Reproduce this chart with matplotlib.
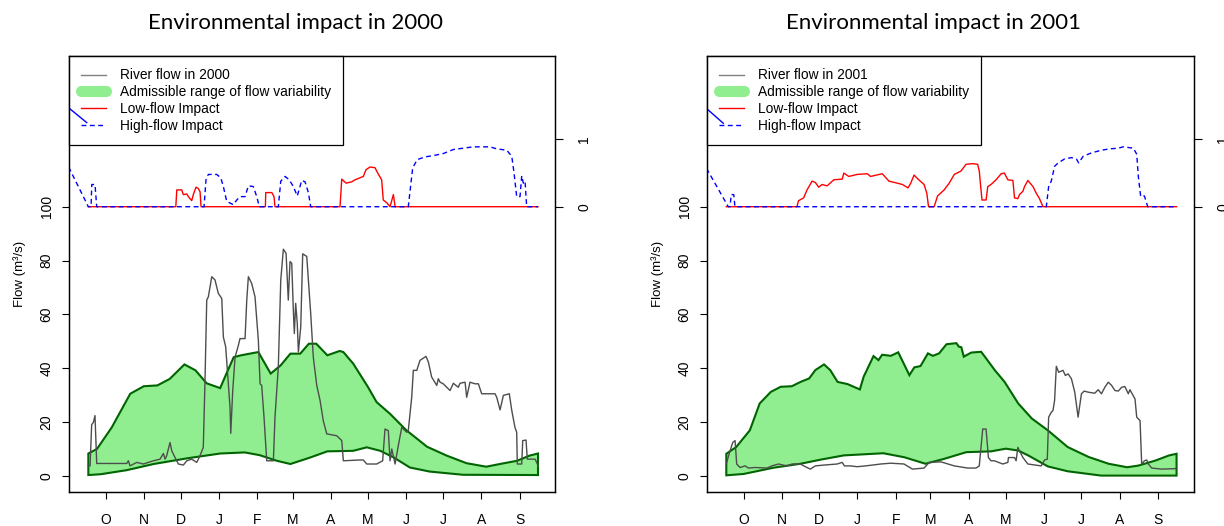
import numpy as np
import matplotlib
matplotlib.use('Agg')
from matplotlib import pyplot as plt
from matplotlib.lines import Line2D

plt.rcParams['font.family'] = ['Liberation Sans', 'DejaVu Sans']

# month labels of the hydrological year (Oct - Sep)
months = ['O', 'N', 'D', 'J', 'F', 'M', 'A', 'M', 'J', 'J', 'A', 'S']
month_len_2000 = [31, 30, 31, 31, 29, 31, 30, 31, 30, 31, 31, 30]
month_len_2001 = [31, 30, 31, 31, 28, 31, 30, 31, 30, 31, 31, 30]

# ---- 2000 (day 0 = 1 Oct 1999) ----
flow00_day = [0, 1.4, 2.7, 4.1, 5.4, 6.8, 31.2, 32.5, 33.8, 39.3,
              44.6, 52.8, 58.2, 60.9, 62.3, 63.6, 66.3, 67.7, 70.4, 73.1,
              77.1, 79.9, 83.9, 88, 90.7, 93.3, 94.7, 96.1, 97.4, 100.2,
              102.8, 105.5, 108.3, 109.6, 111.5, 113.6, 115, 115.6, 117.2, 119.1,
              121.8, 123.1, 127.2, 128.6, 129.9, 132.6, 135.3, 138, 139.4, 140.7,
              142.6, 144.8, 150.2, 151.5, 154.2, 156.2, 158.3, 160.5, 162.3, 163.7,
              165.1, 166.4, 167.2, 168.3, 169.6, 170.5, 172.4, 174, 177.3, 180.5,
              182.6, 185.4, 188.1, 190.7, 193.5, 201.6, 205.7, 207, 220.5, 223.2,
              226, 234.1, 238.9, 240.8, 243.5, 244.9, 246.3, 249, 251.6, 254.4,
              258.4, 259.7, 262.5, 263.8, 266.6, 269.2, 274.1, 276, 278.7, 282.8,
              284.1, 285.5, 288.1, 290.9, 293.6, 296.3, 300.3, 301.7, 305.8, 307.1,
              309.8, 313.9, 316.6, 319.3, 323.4, 330.1, 331.5, 334.2, 336.9, 341.7,
              343.7, 346.3, 347.7, 348.2, 351.8, 352.6, 355.3, 356.3, 362.6, 364.5,
              365]
flow00_val = [3.7, 3.7, 19.0, 19.9, 22.4, 4.6, 4.6, 5.6, 3.7, 5.0,
              4.4, 5.6, 6.2, 8.3, 6.2, 7.5, 12.4, 9.3, 6.8, 4.4,
              4.0, 5.6, 6.2, 5.0, 7.5, 10.6, 35.4, 65.3, 66.5, 74.0,
              72.8, 67.8, 65.9, 51.6, 47.9, 34.2, 25.5, 15.8, 31.7, 44.1,
              48.5, 51.0, 51.0, 65.3, 74.0, 71.5, 66.5, 50.4, 34.2, 33.6,
              21.8, 5.6, 5.6, 21.8, 40.4, 72.8, 84.2, 82.7, 65.3, 79.6,
              79.0, 61.6, 52.9, 64.1, 56.6, 46.0, 55.3, 82.5, 81.5, 60.3,
              44.1, 33.6, 28.0, 20.5, 15.6, 14.9, 13.1, 5.6, 5.9, 5.9,
              4.4, 4.4, 5.6, 17.4, 16.8, 5.6, 10.0, 4.4, 11.2, 18.0,
              16.2, 16.8, 29.2, 39.2, 39.2, 42.9, 44.4, 42.3, 36.7, 33.6,
              36.1, 34.8, 34.2, 32.9, 31.7, 34.4, 32.9, 34.4, 34.8, 29.2,
              34.8, 34.2, 34.2, 30.5, 30.5, 30.5, 29.2, 24.5, 29.9, 30.5,
              24.3, 18.0, 16.2, 4.4, 4.4, 13.1, 13.3, 6.2, 6.2, 4.4,
              3.7]
up00_day = [0, 7, 19, 28, 34, 45, 56, 66, 78, 87, 96, 107, 112, 118, 124, 138, 148, 156, 164,
            172, 179, 185, 194, 204, 207, 215, 227, 234, 245, 258, 275, 291, 307, 323, 334,
            348, 358, 365]
up00_val = [8.3, 10, 18, 25.5, 30.5, 33.3, 33.6, 36, 41.4, 39.2, 34.4, 32.6, 37.9, 44.1, 44.8,
            46, 38, 41, 45.4, 45.4, 49.1, 49.1, 44.8, 46.4, 46, 41.7, 33, 27.4, 23, 17, 10.8,
            7.5, 4.7, 3.4, 4.4, 5.6, 7.5, 8.3]
lo00_day = [0, 10, 31, 53, 80, 107, 127, 139, 153, 164, 180, 194, 215, 226, 237, 248, 261, 277, 304, 365]
lo00_val = [0.3, 0.6, 2.1, 4.4, 6.5, 8.3, 8.7, 7.7, 5.6, 4.4, 6.8, 9.1, 9.3, 10.6, 9.3, 6.8, 3.1, 1.6, 0.4, 0.3]
lf00_day = [0, 71, 71.8, 75.8, 77.1, 79.9, 81.2, 83.9, 85.2, 87.4, 89.3, 90.7, 91.5, 143.7, 144,
            148.9, 150.7, 151.5, 204.3, 205.7, 209.2, 213.8, 216.5, 220.5, 223.2, 225.4, 228.6,
            232.7, 234.6, 238.1, 239.4, 242.2, 244.9, 247.6, 249, 365]
lf00_val = [0, 0, 0.25, 0.25, 0.18, 0.19, 0.15, 0.09, 0.18, 0.29, 0.27, 0.22, 0, 0, 0.21, 0.21,
            0.15, 0, 0, 0.41, 0.35, 0.37, 0.40, 0.43, 0.45, 0.55, 0.59, 0.58, 0.51, 0.40, 0.10,
            0.06, 0, 0.18, 0, 0]
hf00_day = [-16, 0, 2.2, 2.8, 5.4, 6.8, 93.9, 95.5, 97.4, 104.2, 107.5, 109.6, 112.3, 117.7,
            120.5, 123.1, 127.2, 129.9, 133.9, 136.7, 138.8, 154.2, 156.2, 159.7, 163.1, 166.4,
            169.6, 173.2, 175.9, 178.6, 180.5, 259.7, 263.3, 267, 273.3, 280, 288.1, 296.3,
            304.4, 312.5, 326, 331.5, 335.5, 339.6, 343.7, 345.5, 347.7, 350.4, 351.8, 353.1,
            354.5, 355.8, 365]
hf00_val = [0.59, 0, 0, 0.33, 0.33, 0, 0, 0.40, 0.48, 0.48, 0.43, 0.30, 0.08, 0.03, 0.10, 0.15,
            0.15, 0.31, 0.30, 0.15, 0, 0, 0.38, 0.45, 0.40, 0.30, 0.16, 0.39, 0.37, 0.21, 0, 0,
            0.58, 0.70, 0.74, 0.76, 0.79, 0.85, 0.87, 0.89, 0.89, 0.86, 0.85, 0.84, 0.75, 0.51,
            0.15, 0.15, 0.46, 0.35, 0.38, 0, 0]
edge00_day = [-16, -1.3]
edge00_val = [1.47, 1.25]

# ---- 2001 (day 0 = 1 Oct 2000) ----
flow01_day = [0, 2.4, 5.2, 7.1, 8.4, 11.1, 15.2, 17.9, 23.3, 32.8,
              36.8, 42.2, 49, 53.1, 59.8, 63.9, 67.9, 72, 78.7, 89.6,
              93.7, 95.5, 100.4, 105.8, 112.6, 118, 124.8, 132.9, 143.7, 150.5,
              159.9, 164, 173.5, 184.3, 195.1, 201.9, 204.5, 207.3, 210, 211.9,
              214, 216.7, 223.5, 227.6, 228.1, 233, 234.3, 235.7, 237, 239.8,
              243.8, 254.6, 257.3, 259.5, 260.6, 262.7, 264.1, 265.4, 266.8, 268.7,
              272.2, 274.1, 276.3, 279, 281.7, 284.4, 287.1, 289.3, 292.5, 297.9,
              300.6, 303.3, 306, 308.8, 311.5, 314.2, 316.9, 319.6, 322.2, 325,
              326.3, 330.4, 331.8, 334.5, 335.8, 338, 339.9, 341.2, 343.9, 352,
              364]
flow01_val = [4.4, 8.3, 12.4, 13.1, 4.4, 3.1, 3.7, 2.9, 3.1, 2.9,
              3.7, 4.4, 3.7, 4.4, 4.4, 3.4, 2.5, 3.7, 4.0, 4.4,
              5.0, 3.7, 3.7, 3.4, 3.7, 4.0, 4.4, 4.7, 4.4, 2.5,
              2.9, 5.0, 5.2, 3.7, 2.9, 2.9, 3.7, 17.4, 17.4, 6.8,
              5.6, 5.6, 4.4, 5.0, 6.8, 6.8, 5.6, 10.6, 9.3, 6.8,
              4.4, 3.7, 5.9, 6.2, 21.8, 23.6, 24.3, 28.0, 40.7, 38.5,
              39.2, 37.3, 37.9, 36.1, 31.1, 21.8, 30.5, 31.5, 31.1, 30.7,
              32.0, 30.5, 32.9, 34.8, 33.6, 31.7, 31.5, 32.9, 33.2, 30.5,
              32.0, 28.6, 21.8, 20.5, 4.4, 5.6, 5.9, 4.4, 2.9, 2.5,
              2.7]
up01_day = [0, 8, 19, 27, 36, 44, 53, 60, 67, 72, 79, 84, 90, 98, 108, 111, 119, 123, 126, 133,
            139, 144, 148, 152, 157, 163, 167, 172, 178, 186, 188, 190, 192, 198, 206, 209, 217,
            225, 236, 247, 260, 276, 293, 309, 324, 333, 347, 358, 364]
up01_val = [8.2, 10.7, 16.9, 26.9, 31.2, 33.1, 33.3, 34.9, 36.2, 39.3, 41.4, 39.3, 34.9, 34.1,
            32.1, 36.8, 44.5, 43.0, 45.0, 44.6, 45.9, 41.2, 37.4, 40.3, 40.8, 45.5, 44.6, 45.5,
            48.9, 49.3, 48.0, 47.8, 44.3, 45.8, 46.1, 44.3, 39.3, 34.9, 26.9, 21.3, 16.9, 10.7,
            7.0, 4.5, 3.2, 3.8, 5.7, 7.6, 8.2]
lo01_day = [0, 14, 38, 60, 76, 95, 127, 144, 161, 176, 194, 214, 226, 236, 244, 260, 276, 303, 364]
lo01_val = [0.2, 0.7, 3.0, 4.5, 6.0, 7.6, 8.4, 6.9, 4.5, 6.3, 8.8, 9.1, 10.1, 9.4, 7.6, 3.5, 1.7, 0.1, 0.1]
lf01_day = [0, 57.1, 58.4, 62.5, 65.3, 69.3, 72, 74.7, 77.4, 81.5, 86.9, 93.7, 95, 99, 105.8, 114,
            116.6, 126.1, 131.5, 138.3, 142.4, 146.9, 149.1, 151.8, 155, 159.9, 162.1, 163.5, 168,
            170.8, 176.1, 180.2, 184.3, 189.7, 193.8, 199.2, 203.2, 204.5, 206.7, 210, 211.4, 214,
            218.1, 222.2, 224.8, 227.6, 231.7, 233, 235.7, 237, 239.8, 241.1, 243.8, 246.5, 247.9,
            250.6, 253.2, 256, 364]
lf01_val = [0, 0, 0.09, 0.13, 0.25, 0.38, 0.36, 0.29, 0.33, 0.31, 0.40, 0.41, 0.50, 0.45, 0.48,
            0.49, 0.45, 0.49, 0.38, 0.35, 0.33, 0.28, 0.35, 0.47, 0.41, 0.33, 0.20, 0, 0, 0.16,
            0.25, 0.35, 0.48, 0.53, 0.63, 0.64, 0.63, 0.53, 0.10, 0.10, 0.30, 0.33, 0.40, 0.49,
            0.50, 0.40, 0.39, 0.13, 0.12, 0.18, 0.23, 0.30, 0.39, 0.33, 0.30, 0.20, 0.12, 0, 0]
hf01_day = [-16, 1.6, 3, 4, 6, 7, 258.7, 260.6, 262.7, 265.4, 268.2, 273.5, 279, 283, 284.9,
            288.5, 295.2, 303.3, 310.1, 316.9, 320.9, 325, 329.1, 331.8, 333.1, 335, 338, 340.7, 364]
hf01_val = [0.57, 0, 0, 0.18, 0.18, 0, 0, 0.30, 0.38, 0.60, 0.65, 0.71, 0.73, 0.71, 0.65, 0.75,
            0.80, 0.84, 0.86, 0.87, 0.89, 0.88, 0.87, 0.78, 0.45, 0.15, 0.16, 0, 0]
edge01_day = [-16, -2.4]
edge01_val = [1.46, 1.24]

FLOW_COL = '#4d4d4d'
DASH = (0, (3.5, 2.5))


def draw_panel(ax, year, month_len, xlim, flow, upper, lower, low_imp, high_imp, edge):
    # admissible range polygon
    xs = np.concatenate([upper[0], lower[0][::-1]])
    ys = np.concatenate([upper[1], lower[1][::-1]])
    ax.fill(xs, ys, facecolor='#90EE90', edgecolor='#006400', lw=1.5, zorder=2)
    ax.plot(flow[0], flow[1], color=FLOW_COL, lw=1, zorder=3)

    ax.set_xlim(*xlim)
    ax.set_ylim(-6, 156)
    ticks = np.concatenate([[0], np.cumsum(month_len)[:-1]]) + 14
    ax.set_xticks(ticks)
    ax.set_xticklabels(months)
    ax.set_yticks([0, 20, 40, 60, 80, 100])
    for lab in ax.get_yticklabels():
        lab.set_rotation(90)
        lab.set_va('center')
    ax.tick_params(axis='x', direction='out', length=5, width=0.8, pad=10, labelsize=10)
    ax.tick_params(axis='y', direction='out', length=5, width=0.8, pad=6, labelsize=10)
    ax.set_ylabel('Flow (m³/s)', fontsize=9.5)
    ax.yaxis.set_label_coords(-0.088, 0.5)
    for s in ax.spines.values():
        s.set_linewidth(0.9)

    handles = [Line2D([], [], color='#808080', lw=1),
               Line2D([], [], color='#90EE90', lw=8, solid_capstyle='round'),
               Line2D([], [], color='red', lw=1),
               Line2D([], [], color='blue', lw=1, ls=DASH)]
    labels = ['River flow in %d' % year, 'Admissible range of flow variability',
              'Low-flow Impact', 'High-flow Impact']
    leg = ax.legend(handles, labels, loc='upper left', bbox_to_anchor=(0, 1.0),
                    borderaxespad=0, fancybox=False, edgecolor='black', framealpha=1,
                    fontsize=9.9, handlelength=1.8, handletextpad=1.0,
                    labelspacing=0.2, borderpad=0.9)
    leg.get_frame().set_linewidth(0.9)

    # impact indices on the secondary axis (0 at flow 100, 1 at flow 125)
    ax2 = ax.twinx()
    ax2.set_ylim((-6 - 100) / 25, (156 - 100) / 25)
    ax2.plot(low_imp[0], low_imp[1], color='red', lw=1)
    ax2.plot(high_imp[0], high_imp[1], color='blue', lw=1, ls=DASH)
    ax2.plot(edge[0], edge[1], color='blue', lw=1)
    ax2.set_xlim(*xlim)
    ax2.set_yticks([0, 1])
    for lab in ax2.get_yticklabels():
        lab.set_rotation(90)
        lab.set_va('center')
    ax2.tick_params(axis='y', direction='out', length=6, width=0.8, pad=10, labelsize=10)
    for s in ax2.spines.values():
        s.set_linewidth(0.9)


fig = plt.figure(figsize=(12.24, 5.26), dpi=100)
ax_l = fig.add_axes([69 / 1224, 34 / 526, 486 / 1224, 436 / 526])
ax_r = fig.add_axes([707 / 1224, 34 / 526, 487 / 1224, 436 / 526])

draw_panel(ax_l, 2000, month_len_2000, (-15.7, 378.8),
           (flow00_day, flow00_val), (up00_day, up00_val), (lo00_day, lo00_val),
           (lf00_day, lf00_val), (hf00_day, hf00_val), (edge00_day, edge00_val))
draw_panel(ax_r, 2001, month_len_2001, (-15.6, 378.1),
           (flow01_day, flow01_val), (up01_day, up01_val), (lo01_day, lo01_val),
           (lf01_day, lf01_val), (hf01_day, hf01_val), (edge01_day, edge01_val))

fig.text(295 / 1224, 1 - 23 / 526, 'Environmental impact in 2000', ha='center', va='center',
         fontsize=16, family=['Lato', 'DejaVu Sans'])
fig.text(934 / 1224, 1 - 23 / 526, 'Environmental impact in 2001', ha='center', va='center',
         fontsize=16, family=['Lato', 'DejaVu Sans'])

fig.savefig('out.png', dpi=100)
